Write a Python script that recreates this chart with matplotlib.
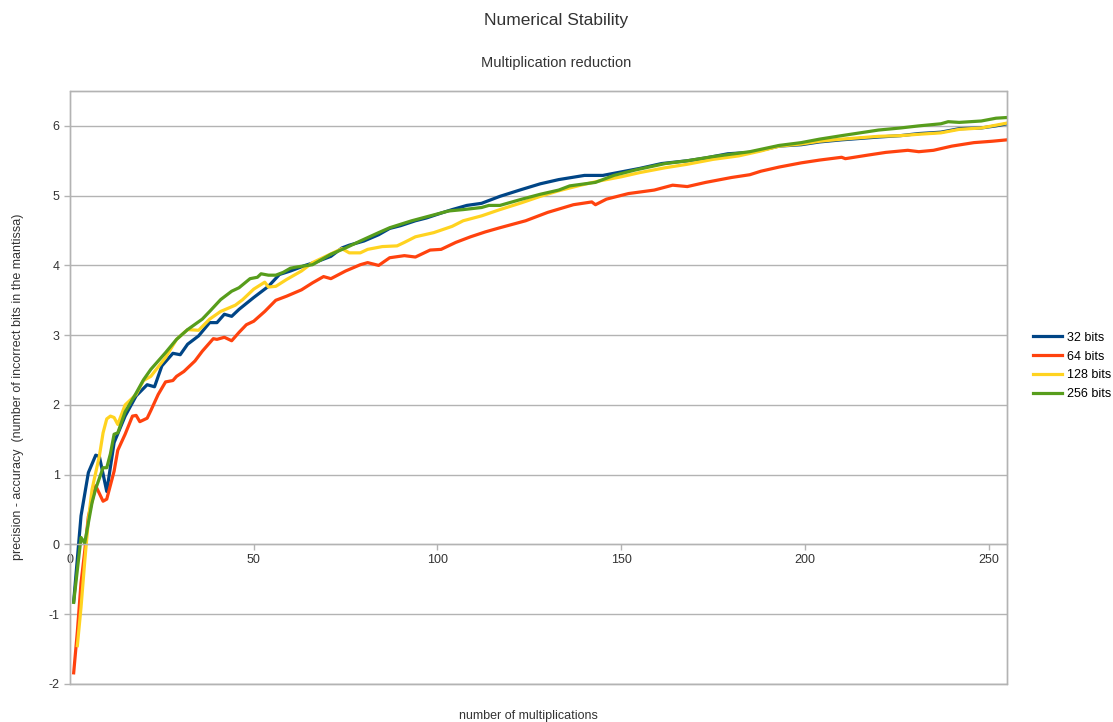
import matplotlib
matplotlib.use("Agg")
import matplotlib.pyplot as plt

plt.rcParams["font.family"] = ["Liberation Sans", "DejaVu Sans"]
plt.rcParams["axes.unicode_minus"] = False

# values
x_32 = [1, 3, 5, 7, 8, 10, 12, 15, 18, 21, 23, 25, 28, 30, 32, 35, 38, 40, 42, 44,
        46, 50, 54, 57, 60, 64, 67, 71, 74, 76, 80, 84, 87, 90, 94, 97, 101, 104, 108, 112,
        117, 123, 128, 133, 140, 145, 150, 155, 161, 168, 173, 179, 185, 188, 193, 199, 204, 210, 215, 220,
        226, 231, 237, 242, 248, 252, 255]
y_32 = [-0.82, 0.41, 1.03, 1.28, 1.26, 0.76, 1.46, 1.84, 2.13, 2.29, 2.26, 2.56, 2.74, 2.72, 2.87, 2.99, 3.18, 3.18, 3.30, 3.27,
        3.37, 3.54, 3.70, 3.87, 3.92, 4.00, 4.05, 4.13, 4.25, 4.29, 4.35, 4.44, 4.53, 4.57, 4.64, 4.68, 4.75, 4.80, 4.86, 4.89,
        4.99, 5.09, 5.17, 5.23, 5.29, 5.29, 5.34, 5.39, 5.46, 5.50, 5.54, 5.60, 5.62, 5.65, 5.71, 5.73, 5.77, 5.80, 5.82, 5.84,
        5.86, 5.89, 5.91, 5.96, 5.97, 6.00, 6.03]

x_64 = [1, 2, 3, 4, 5, 7, 9, 10, 12, 13, 15, 17, 18, 19, 21, 22, 24, 25, 26, 28,
        29, 31, 34, 36, 39, 40, 42, 44, 46, 48, 50, 53, 56, 59, 63, 66, 69, 71, 75, 79,
        81, 84, 87, 91, 94, 98, 101, 105, 109, 113, 117, 124, 130, 137, 142, 143, 146, 152, 159, 164,
        168, 173, 180, 185, 188, 193, 199, 204, 210, 211, 217, 222, 228, 231, 235, 240, 246, 251, 255]
y_64 = [-1.84, -1.25, -0.55, -0.10, 0.40, 0.84, 0.62, 0.65, 1.05, 1.35, 1.58, 1.84, 1.85, 1.76, 1.81, 1.92, 2.15, 2.24, 2.33, 2.35,
        2.41, 2.48, 2.63, 2.77, 2.95, 2.94, 2.97, 2.92, 3.04, 3.15, 3.20, 3.34, 3.50, 3.56, 3.65, 3.75, 3.84, 3.81, 3.92, 4.01,
        4.04, 4.00, 4.11, 4.14, 4.12, 4.22, 4.23, 4.33, 4.41, 4.48, 4.54, 4.64, 4.76, 4.87, 4.91, 4.87, 4.95, 5.03, 5.08, 5.15,
        5.13, 5.19, 5.26, 5.30, 5.35, 5.41, 5.47, 5.51, 5.55, 5.53, 5.58, 5.62, 5.65, 5.63, 5.65, 5.71, 5.76, 5.78, 5.80]

x_128 = [2, 3, 4, 5, 6, 8, 9, 10, 11, 12, 13, 15, 18, 20, 22, 26, 29, 32, 35,
         38, 41, 45, 47, 50, 53, 54, 56, 59, 63, 66, 70, 74, 76, 79, 81, 85, 89, 91, 94,
         99, 104, 107, 112, 117, 123, 128, 133, 139, 144, 150, 155, 162, 168, 175, 182, 188, 193, 199, 204,
         210, 215, 220, 226, 231, 237, 242, 248, 252, 255]
y_128 = [-1.45, -0.90, -0.25, 0.35, 0.79, 1.27, 1.60, 1.80, 1.84, 1.82, 1.72, 2.00, 2.15, 2.35, 2.41, 2.68, 2.94, 3.08, 3.07,
         3.23, 3.34, 3.43, 3.51, 3.66, 3.76, 3.69, 3.70, 3.80, 3.92, 4.04, 4.14, 4.24, 4.18, 4.18, 4.23, 4.27, 4.28, 4.33, 4.41,
         4.47, 4.56, 4.64, 4.71, 4.80, 4.90, 4.99, 5.07, 5.15, 5.21, 5.27, 5.33, 5.40, 5.45, 5.52, 5.57, 5.64, 5.71, 5.74, 5.78,
         5.81, 5.83, 5.85, 5.86, 5.88, 5.90, 5.95, 5.97, 6.01, 6.04]

x_256 = [1, 3, 4, 6, 7, 9, 10, 11, 12, 13, 15, 18, 20, 22, 26, 29, 32, 36, 38, 41,
         44, 46, 49, 51, 52, 54, 56, 58, 60, 62, 66, 71, 75, 79, 84, 87, 93, 98, 103, 107,
         112, 114, 117, 123, 128, 133, 136, 143, 148, 154, 162, 168, 175, 185, 193, 199, 204, 210, 215, 220,
         226, 231, 237, 239, 242, 248, 252, 255]
y_256 = [-0.83, 0.10, 0.02, 0.60, 0.80, 1.10, 1.10, 1.30, 1.58, 1.60, 1.90, 2.17, 2.36, 2.51, 2.75, 2.94, 3.08, 3.23, 3.34, 3.51,
         3.63, 3.68, 3.81, 3.83, 3.88, 3.86, 3.86, 3.90, 3.96, 3.98, 4.01, 4.16, 4.25, 4.35, 4.47, 4.54, 4.64, 4.71, 4.78, 4.80,
         4.83, 4.86, 4.86, 4.95, 5.02, 5.08, 5.14, 5.19, 5.29, 5.37, 5.46, 5.50, 5.56, 5.63, 5.72, 5.76, 5.81, 5.86, 5.90, 5.94,
         5.97, 6.00, 6.03, 6.06, 6.05, 6.07, 6.11, 6.12]

series = [
    ("32 bits", x_32, y_32, "#004586"),
    ("64 bits", x_64, y_64, "#ff420e"),
    ("128 bits", x_128, y_128, "#ffd320"),
    ("256 bits", x_256, y_256, "#579d1c"),
]

W, H = 1113, 722
fig = plt.figure(figsize=(W / 100, H / 100), dpi=100)
ax = fig.add_axes([70 / W, 38 / H, 937 / W, 593 / H])

grey = "#b3b3b3"
for label, xs, ys, col in series:
    ax.plot(xs, ys, color=col, lw=2.3, label=label, solid_joinstyle="round")

ax.set_xlim(0, 255)
ax.set_ylim(-2, 6.5)
ax.set_xticks(range(0, 251, 50))
ax.set_yticks(range(-2, 7))
ax.yaxis.grid(True, color=grey, lw=1)
ax.set_axisbelow(True)

# plot-area frame (x axis itself sits at y = 0)
ax.patch.set_edgecolor(grey)
ax.patch.set_linewidth(1)
for s in ("top", "right", "left"):
    ax.spines[s].set_color(grey)
    ax.spines[s].set_linewidth(1)
ax.spines["bottom"].set_position(("data", 0))
ax.spines["bottom"].set_color(grey)
ax.spines["bottom"].set_linewidth(1)
ax.axhline(-2, color=grey, lw=1, clip_on=False, zorder=0.5)
ax.tick_params(axis="both", colors=grey, labelcolor="#333333", labelsize=9,
               length=4, width=1, direction="out")
ax.tick_params(axis="x", pad=3)

fig.text(556 / W, 1 - 20 / H, "Numerical Stability", ha="center", va="center", fontsize=12.5, color="#333333")
fig.text(556 / W, 1 - 63 / H, "Multiplication reduction", ha="center", va="center", fontsize=10.5, color="#333333")
fig.text(18 / W, 1 - 387 / H, "precision - accuracy  (number of incorrect bits in the mantissa)",
         rotation=90, ha="center", va="center", fontsize=9, color="#333333")
fig.text(528 / W, 1 - 716 / H, "number of multiplications", ha="center", va="center", fontsize=9, color="#333333")

fig.legend(loc="center left", bbox_to_anchor=(1033 / W, 1 - 366 / H), frameon=False,
           fontsize=9, handlelength=2.3, handletextpad=0.4, labelspacing=0.55,
           borderpad=0, borderaxespad=0)

fig.savefig("out.png", dpi=100)
